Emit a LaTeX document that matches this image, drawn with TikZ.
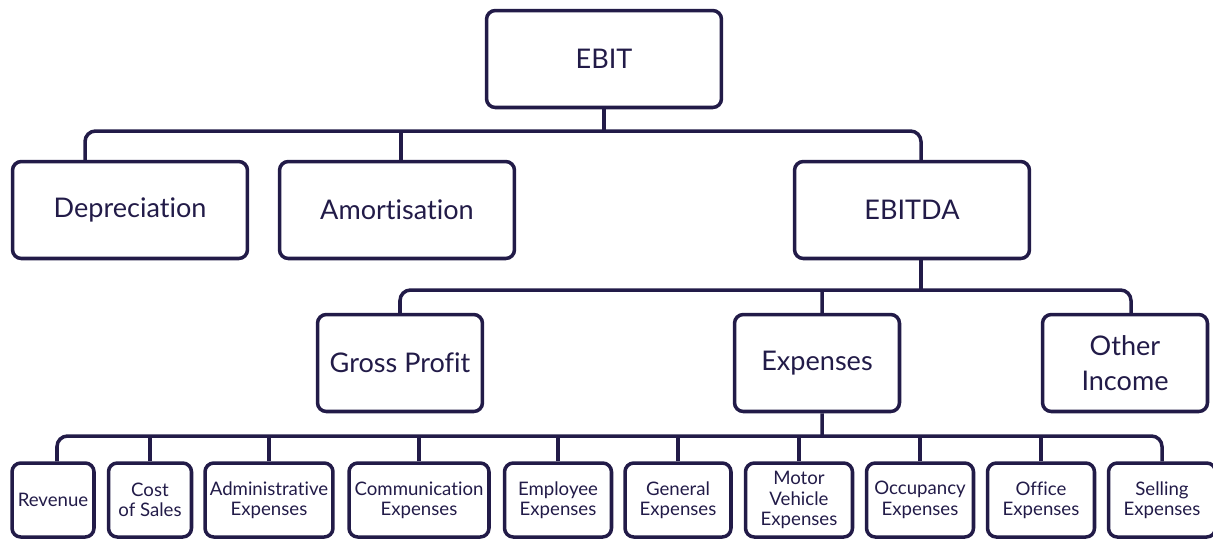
\documentclass[tikz,border=0pt]{standalone}
\usepackage{fontspec}
\setmainfont[Ligatures=CommonOff]{Lato}
\definecolor{navy}{HTML}{221B48}
\tikzset{
  box/.style={draw=navy, line width=2pt, rounded corners=5pt, text=navy, align=center, inner sep=0pt},
  topbox/.style={box, minimum width=4.7cm, minimum height=1.94cm, font=\fontsize{15.4}{19.5}\selectfont},
  midbox/.style={box, minimum width=3.3cm, minimum height=1.94cm, font=\fontsize{15.4}{19.5}\selectfont},
  lowbox/.style={box, minimum height=1.48cm, font=\fontsize{10.6}{11.6}\selectfont},
  link/.style={draw=navy, line width=2pt, rounded corners=6pt}
}
\begin{document}
\begin{tikzpicture}[x=0.02cm, y=-0.02cm]
    \useasboundingbox (0, 0) rectangle (1213, 539);
    \node [topbox] (ebit) at (604, 59) {EBIT};
    \node [topbox] (dep) at (130, 210) {Depreciation};
    \node [topbox] (amort) at (397, 210) {Amortisation};
    \node [topbox] (ebitda) at (912, 210) {EBITDA};
    \node [midbox] (gross) at (400, 363) {Gross Profit};
    \node [midbox] (exp) at (817, 363) {Expenses};
    \node [midbox] (other) at (1125, 363) {Other\\Income};
    \node [lowbox, minimum width=1.64cm] (rev) at (53, 500) {Revenue};
    \node [lowbox, minimum width=1.66cm] (cost) at (150, 500) {Cost\\of Sales};
    \node [lowbox, minimum width=2.56cm] (admin) at (269, 500) {Administrative\\Expenses};
    \node [lowbox, minimum width=2.8cm] (comm) at (419, 500) {Communication\\Expenses};
    \node [lowbox, minimum width=2.14cm] (empl) at (558, 500) {Employee\\Expenses};
    \node [lowbox, minimum width=2.12cm] (gen) at (678, 500) {General\\Expenses};
    \node [lowbox, minimum width=2.14cm] (motor) at (799, 500) {Motor\\Vehicle\\Expenses};
    \node [lowbox, minimum width=2.14cm] (occ) at (920, 500) {Occupancy\\Expenses};
    \node [lowbox, minimum width=2.14cm] (office) at (1041, 500) {Office\\Expenses};
    \node [lowbox, minimum width=2.14cm] (sell) at (1162, 500) {Selling\\Expenses};

    \coordinate (bus1) at (604, 131);
    \coordinate (bus2) at (822, 290);
    \coordinate (bus3) at (822, 436);

    \draw [link] ([xshift=-0.9cm]dep.north) |- (bus1) -| ([xshift=0.18cm]ebitda.north);
    \draw [link] (ebit.south) -- (bus1);
    \draw [link] ([xshift=0.08cm]amort.north) -- ([xshift=0.08cm]amort.north |- bus1);

    \draw [link] (gross.north) |- (bus2) -| ([xshift=0.12cm]other.north);
    \draw [link] ([xshift=0.18cm]ebitda.south) -- ([xshift=0.18cm]ebitda.south |- bus2);
    \draw [link] ([xshift=0.1cm]exp.north) -- (bus2);

    \draw [link] ([xshift=0.08cm]rev.north) |- (bus3) -| (sell.north);
    \draw [link] ([xshift=0.1cm]exp.south) -- (bus3);
    \foreach \n in {cost, admin, comm, empl, gen, motor, occ, office}
      \draw [link] (\n.north) -- (\n.north |- bus3);
\end{tikzpicture}
\end{document}
